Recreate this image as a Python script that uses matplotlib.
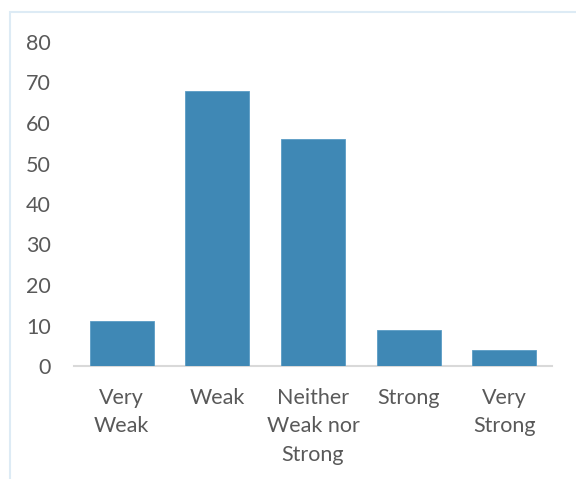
import matplotlib
matplotlib.use("Agg")
import matplotlib.pyplot as plt
from matplotlib.patches import Rectangle

categories = ["Very\nWeak", "Weak", "Neither\nWeak nor\nStrong", "Strong", "Very\nStrong"]
values = [11, 68, 56, 9, 4]
yticks = [0, 10, 20, 30, 40, 50, 60, 70, 80]

plt.rcParams['font.family'] = ['Lato', 'DejaVu Sans']

W, H = 576, 479
fig = plt.figure(figsize=(W/100, H/100), dpi=100)
fig.patch.set_facecolor('white')

# outer light-blue frame (cut off at right and bottom)
fig.patches.append(Rectangle((10/W, -0.05), 1.2, 1 - 12/H + 0.05, transform=fig.transFigure,
                             fill=False, edgecolor='#DDEBF5', linewidth=1.5))

left, right = 74/W, 552/W
bottom, top = 1 - 366/H, 1 - 42/H
ax = fig.add_axes([left, bottom, right - left, top - bottom])
x = range(len(categories))
ax.bar(x, values, width=0.67, color='#3F88B5', edgecolor='#5A9CC5', linewidth=0.6, zorder=3)
ax.set_xlim(-0.5, len(categories) - 0.5)
ax.set_ylim(0, 80)
ax.set_yticks(yticks)
ax.set_xticks(list(x))
ax.set_xticklabels(categories, linespacing=1.55)
for s in ['top', 'right', 'left']:
    ax.spines[s].set_visible(False)
ax.spines['bottom'].set_color('#D9D9D9')
ax.spines['bottom'].set_linewidth(1.5)
ax.tick_params(axis='both', length=0, labelsize=15.5, colors='#595959')
ax.tick_params(axis='y', pad=16.5)
ax.tick_params(axis='x', pad=15.5)
fig.savefig('out.png', dpi=100, facecolor='white')
